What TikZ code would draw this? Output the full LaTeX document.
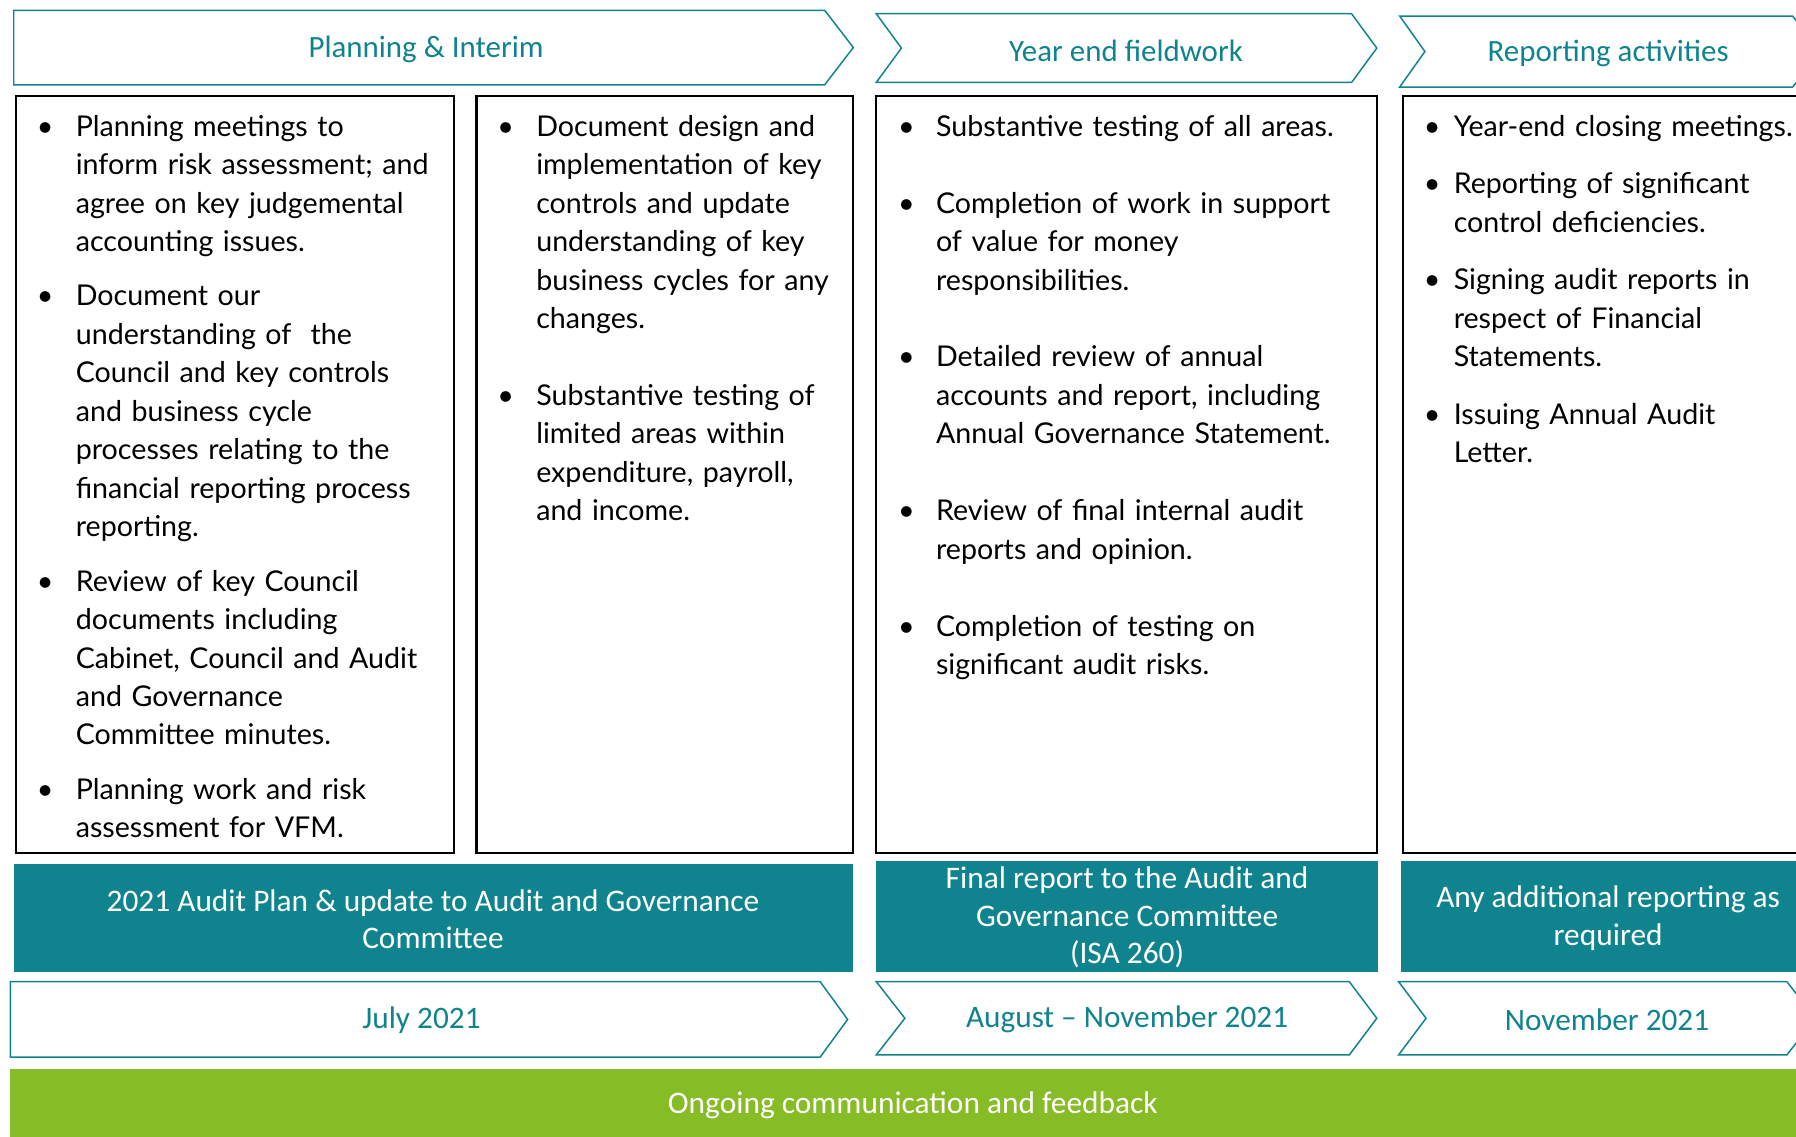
\documentclass[tikz,border=0pt]{standalone}
\usepackage{fontspec}
\setmainfont{Lato}
\newfontfamily\headfont{Carlito}
\usetikzlibrary{positioning}

\definecolor{auditteal}{RGB}{16,132,142}
\definecolor{auditgreen}{RGB}{134,188,37}

\newlength{\bulletgap}
\newcommand{\bitem}[1]{\par\noindent\hangindent=\bulletgap\hangafter=1\makebox[\bulletgap][l]{\strut\textbullet}#1\par}
\newcommand{\bskip}[1]{\vskip #1\relax}

\begin{document}
\begin{tikzpicture} [
    x=1pt, y=-1pt,
    chev/.style={draw=auditteal, line width=1.3pt, fill=white, line join=miter},
    colbox/.style={draw=black, line width=1.8pt},
    headtxt/.style={font=\headfont\fontsize{27}{32}\selectfont, text=auditteal},
    bartxt/.style={font=\headfont\fontsize{27.4}{33}\selectfont, text=white, align=center},
    coltxt/.style={anchor=north west, inner sep=0pt, font=\fontsize{25}{33.6}\selectfont}]

\useasboundingbox (0,0) rectangle (1568,992);
\clip (0,0) rectangle (1568,992);

% Phase chevrons
\draw[chev] (12,9) -- (720,9) -- (745,41.5) -- (720,74) -- (12,74) -- cycle;
\draw[chev] (765,12) -- (1180,12) -- (1202,42) -- (1180,72) -- (765,72) -- (787,42) -- cycle;
\draw[chev] (1222,14) -- (1565,14) -- (1590,45) -- (1565,76) -- (1222,76) -- (1244,45) -- cycle;

\node (plan) [headtxt] at (372,43.5) {Planning \& Interim};
\node (fieldwork) [headtxt] at (983,44) {Year end fieldwork};
\node (reporting) [headtxt] at (1404,47) {Reporting activities};

% Activity boxes
\draw[colbox] (14,84) rectangle (396,745);
\draw[colbox] (416,84) rectangle (745,745);
\draw[colbox] (765,84) rectangle (1202,745);
\draw[colbox] (1225,84) rectangle (1600,745);

\node (planlist) [coltxt, text width=360pt] at (32,85) {%
    \setlength{\bulletgap}{34pt}%
    \bitem{Planning meetings to\newline inform risk assessment; and\newline agree on key judgemental\newline accounting issues.}\bskip{13.8pt}
    \bitem{Document our\newline understanding of~ the\newline Council and key controls\newline and business cycle\newline processes relating to the\newline financial reporting process\newline reporting.}\bskip{13.8pt}
    \bitem{Review of key Council\newline documents including\newline Cabinet, Council and Audit\newline and Governance\newline Committee minutes.}\bskip{13.8pt}
    \bitem{Planning work and risk\newline assessment for VFM.}};

\node (interimlist) [coltxt, text width=310pt] at (434,85) {%
    \setlength{\bulletgap}{34pt}%
    \bitem{Document design and\newline implementation of key\newline controls and update\newline understanding of key\newline business cycles for any\newline changes.}\bskip{33.6pt}
    \bitem{Substantive testing of\newline limited areas within\newline expenditure, payroll,\newline and income.}};

\node (fieldlist) [coltxt, text width=430pt] at (784,85) {%
    \setlength{\bulletgap}{33pt}%
    \bitem{Substantive testing of all areas.}\bskip{33.6pt}
    \bitem{Completion of work in support\newline of value for money\newline responsibilities.}\bskip{33.6pt}
    \bitem{Detailed review of annual\newline accounts and report, including\newline Annual Governance Statement.}\bskip{33.6pt}
    \bitem{Review of final internal audit\newline reports and opinion.}\bskip{33.6pt}
    \bitem{Completion of testing on\newline significant audit risks.}};

\node (replist) [coltxt, text width=370pt] at (1243,85) {%
    \setlength{\bulletgap}{26pt}%
    \bitem{Year-end closing meetings.}\bskip{16.7pt}
    \bitem{Reporting of significant\newline control deficiencies.}\bskip{16.7pt}
    \bitem{Signing audit reports in\newline respect of Financial\newline Statements.}\bskip{16.7pt}
    \bitem{Issuing Annual Audit\newline Letter.}};

% Reporting bars
\fill[auditteal] (12,754) rectangle (745,849);
\fill[auditteal] (765,752) rectangle (1203,849);
\fill[auditteal] (1223,752) rectangle (1600,849);

\node (planreport) [bartxt] at (378,802.5) {2021 Audit Plan \& update to Audit and Governance\\Committee};
\node (finalreport) [bartxt] at (984,801) {Final report to the Audit and\\Governance Committee\\(ISA 260)};
\node (extrareport) [bartxt] at (1404,801.5) {Any additional reporting as\\required};

% Timing chevrons
\draw[chev] (9,857) -- (716,857) -- (740,890) -- (716,923) -- (9,923) -- cycle;
\draw[chev] (765,857) -- (1178,857) -- (1202,889) -- (1178,921) -- (765,921) -- (790,889) -- cycle;
\draw[chev] (1221,857) -- (1560,857) -- (1585,889) -- (1560,921) -- (1221,921) -- (1245,889) -- cycle;

\node (july) [headtxt, font=\headfont\fontsize{27.3}{32}\selectfont] at (368,891) {July 2021};
\node (augnov) [headtxt, font=\headfont\fontsize{27.3}{32}\selectfont] at (984,890) {August \textendash{} November 2021};
\node (nov) [headtxt, font=\headfont\fontsize{27.3}{32}\selectfont] at (1403,890) {November 2021};

% Ongoing bar
\fill[auditgreen] (9,933) rectangle (1600,1000);
\node (ongoing) [bartxt] at (797,965) {Ongoing communication and feedback};
\end{tikzpicture}
\end{document}
